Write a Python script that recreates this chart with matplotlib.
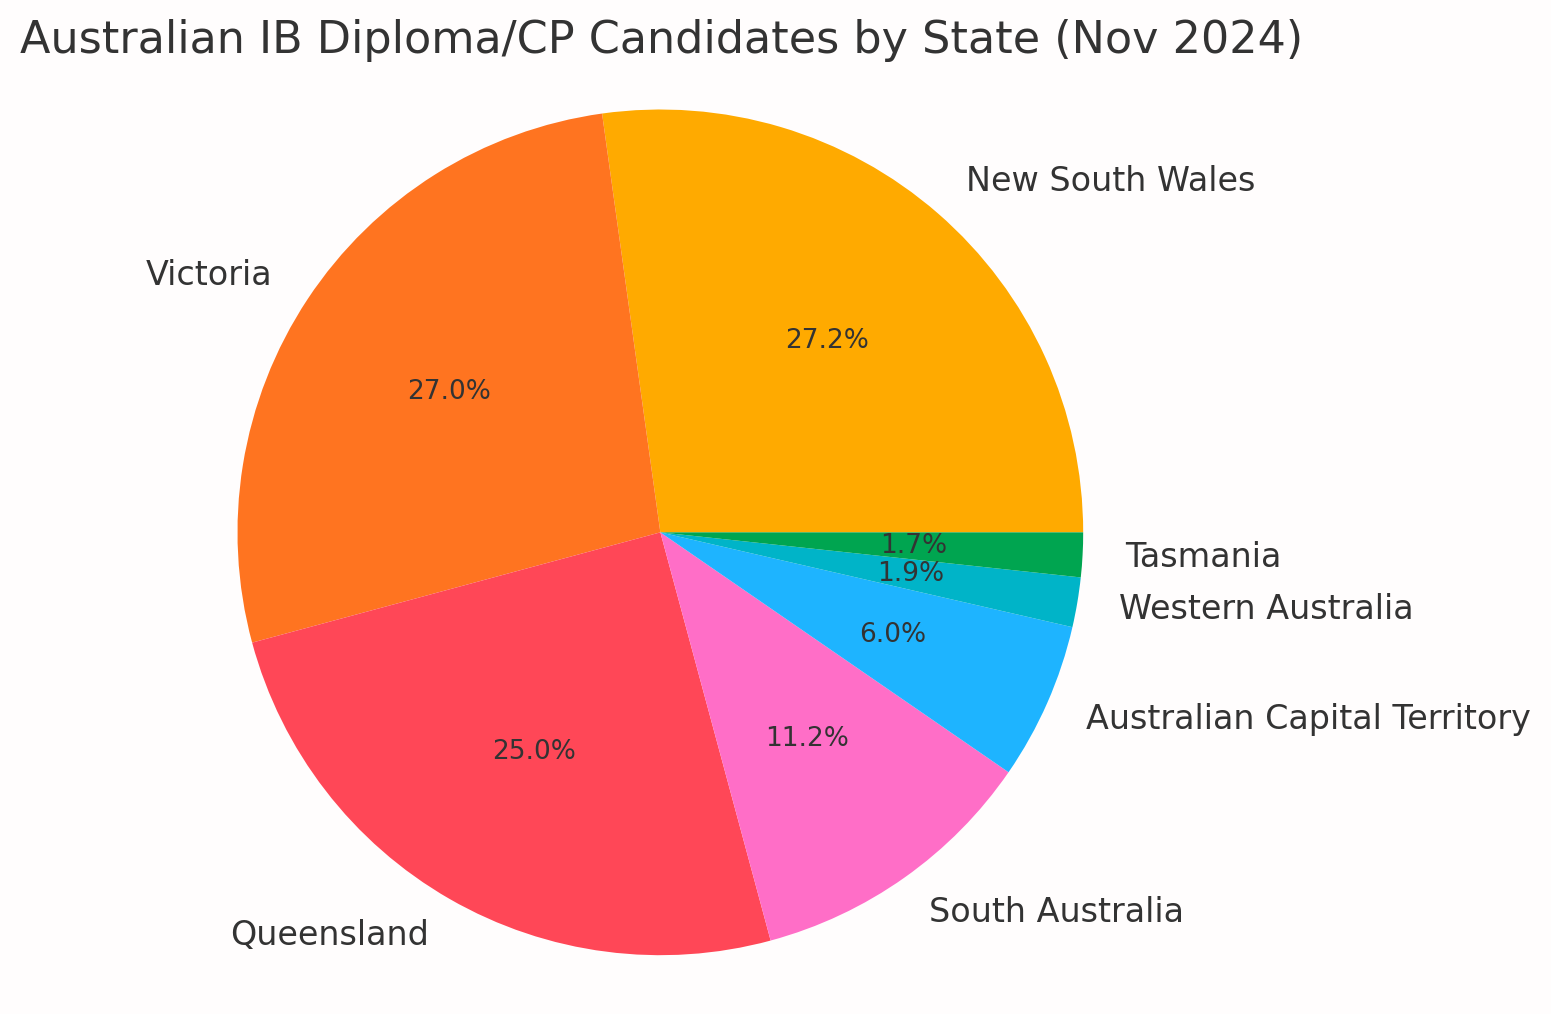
import matplotlib
matplotlib.use("Agg")
import matplotlib.pyplot as plt

states = ["New South Wales", "Victoria", "Queensland", "South Australia",
          "Australian Capital Territory", "Western Australia", "Tasmania"]
shares = [27.2, 27.0, 25.0, 11.2, 6.0, 1.9, 1.7]
colors = ["#FFAA00", "#FF7420", "#FF4757", "#FF6EC7", "#1EB4FF", "#00B4C8", "#00A550"]

plt.rcParams['font.family'] = ['DejaVu Sans']
fig = plt.figure(figsize=(15.51, 10.14), dpi=100, facecolor="#FFFDFD")
ax = fig.add_axes([0.153, 0.058, 0.5455, 0.834])
ax.set_facecolor("#FFFDFD")
wedges, texts, autotexts = ax.pie(shares, labels=states, colors=colors, autopct="%1.1f%%",
                                  startangle=0, counterclock=True,
                                  textprops={"color": "#333333", "fontsize": 24})
for t in autotexts:
    t.set_fontsize(19)
ax.set_xlim(-1, 1)
ax.set_ylim(-1, 1)
ax.set_aspect("equal")
fig.text(0.013, 0.96, "Australian IB Diploma/CP Candidates by State (Nov 2024)",
         fontsize=32, color="#333333", ha="left", va="center")
fig.savefig("out.png", dpi=100, facecolor=fig.get_facecolor())
